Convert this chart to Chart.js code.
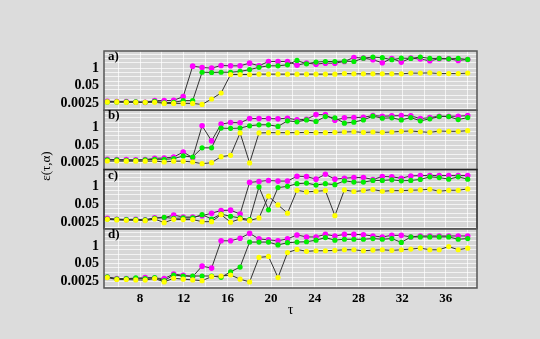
<!DOCTYPE html>
<html>
<head>
<meta charset="utf-8">
<script src="https://cdn.jsdelivr.net/npm/chart.js@4.4.0/dist/chart.umd.min.js"></script>
<style>
  html, body { margin: 0; padding: 0; background: #dcdcdc; }
  #wrap { width: 540px; height: 339px; position: relative; }
</style>
</head>
<body>
<div id="wrap"><canvas id="chart" width="540" height="339"></canvas></div>
<script>
// τ positions of the points (39 per curve)
const tau = [5.00, 5.87, 6.74, 7.61, 8.47, 9.34, 10.21, 11.08, 11.95, 12.82, 13.68, 14.55, 15.42,
  16.29, 17.16, 18.03, 18.89, 19.76, 20.63, 21.50, 22.37, 23.24, 24.11, 24.97, 25.84, 26.71,
  27.58, 28.45, 29.32, 30.18, 31.05, 31.92, 32.79, 33.66, 34.53, 35.39, 36.26, 37.13, 38.00];

const panelNames = ['a', 'b', 'c', 'd'];
const xTickLabels = [8, 12, 16, 20, 24, 28, 32, 36];
const yTickLabels = [0.0025, 0.05, 1];
const yGridLines = [0.001, 0.0025, 0.005, 0.01, 0.025, 0.05, 0.1, 0.25, 0.5, 1, 2.5, 5, 10];

// panel a
const magentaA = [0.0036, 0.0034, 0.0034, 0.0032, 0.0030, 0.0040, 0.0040, 0.0042, 0.0079, 1.41,
  1.12, 1.0, 1.58, 1.49, 1.49, 2.35, 1.49, 3.1, 3.1, 3.1, 1.67, 2.35, 1.98, 2.35, 2.35, 3.1,
  6.2, 5.5, 4.2, 2.5, 5.2, 2.8, 5.5, 4.7, 3.5, 4.9, 4.9, 3.7, 4.4];
const greenA = [0.0032, 0.0032, 0.0032, 0.0032, 0.0030, 0.0036, 0.0028, 0.0030, 0.0040, 0.0040,
  0.50, 0.48, 0.50, 0.50, 0.57, 0.78, 1.15, 1.49, 1.49, 1.77, 3.7, 2.1, 2.8, 3.1, 3.1, 3.3,
  3.1, 5.5, 6.6, 5.9, 4.2, 5.5, 5.2, 6.6, 5.2, 5.2, 4.9, 5.2, 4.4];
const yellowA = [0.0032, 0.0032, 0.0030, 0.0030, 0.0030, 0.0030, 0.0025, 0.0025, 0.0025, 0.0025,
  0.0021, 0.0053, 0.0147, 0.34, 0.34, 0.34, 0.36, 0.36, 0.36, 0.36, 0.36, 0.36, 0.36, 0.36,
  0.36, 0.40, 0.38, 0.38, 0.38, 0.38, 0.38, 0.38, 0.43, 0.43, 0.45, 0.40, 0.40, 0.40, 0.43];

// panel b
const magentaB = [0.0044, 0.0042, 0.0042, 0.0040, 0.0042, 0.0052, 0.0055, 0.0065, 0.0151, 0.0059,
  1.32, 0.101, 1.75, 2.3, 2.2, 4.5, 4.5, 4.5, 4.3, 4.8, 3.6, 4.0, 8.8, 8.8, 3.4, 5.1, 5.3,
  5.6, 7.5, 6.7, 7.1, 7.5, 7.1, 4.5, 5.3, 6.7, 6.7, 6.7, 7.5];
const greenB = [0.0040, 0.0040, 0.0037, 0.0037, 0.0040, 0.0044, 0.0044, 0.0049, 0.0078, 0.0065,
  0.031, 0.031, 0.89, 0.85, 0.89, 1.32, 1.56, 1.56, 1.18, 3.06, 2.6, 3.6, 2.75, 6.3, 5.1,
  2.07, 2.45, 3.6, 6.7, 4.8, 5.1, 3.6, 5.3, 3.06, 4.3, 6.3, 6.3, 3.8, 5.3];
const yellowB = [0.0033, 0.0033, 0.0032, 0.0032, 0.0032, 0.0033, 0.0028, 0.0032, 0.0032, 0.0028,
  0.0021, 0.0025, 0.0069, 0.0087, 0.39, 0.0024, 0.39, 0.41, 0.41, 0.41, 0.41, 0.43, 0.41,
  0.41, 0.43, 0.46, 0.48, 0.43, 0.46, 0.43, 0.46, 0.51, 0.54, 0.48, 0.43, 0.54, 0.51, 0.51, 0.57];

// panel c
const magentaC = [0.0046, 0.0039, 0.0037, 0.0039, 0.0035, 0.0051, 0.0051, 0.0080, 0.0057, 0.0057,
  0.0072, 0.011, 0.0174, 0.0184, 0.0095, 2.06, 2.43, 2.87, 2.57, 2.57, 5.9, 5.6, 3.6, 8.2,
  3.6, 4.2, 4.7, 4.7, 3.4, 5.6, 5.3, 4.2, 6.2, 6.6, 6.6, 6.6, 6.6, 6.6, 6.6];
const greenC = [0.0041, 0.0039, 0.0037, 0.0037, 0.0035, 0.0046, 0.0054, 0.0046, 0.0049, 0.0049,
  0.0085, 0.0041, 0.0095, 0.0064, 0.0049, 0.0037, 0.95, 0.0195, 0.85, 1.06, 1.65, 1.84, 1.32,
  1.65, 1.4, 2.7, 2.17, 2.17, 2.87, 2.87, 3.2, 2.7, 2.87, 3.4, 5.3, 4.7, 3.6, 5.3, 3.6];
const yellowC = [0.0039, 0.0035, 0.0033, 0.0033, 0.0031, 0.0041, 0.0022, 0.0039, 0.0037, 0.0037,
  0.0026, 0.0026, 0.0085, 0.0024, 0.0041, 0.0031, 0.0049, 0.2, 0.045, 0.011, 0.54, 0.41, 0.46,
  0.51, 0.0072, 0.57, 0.44, 0.51, 0.61, 0.46, 0.51, 0.51, 0.54, 0.57, 0.64, 0.46, 0.54, 0.54, 0.68];

// panel d
const magentaD = [0.0051, 0.0039, 0.0039, 0.0039, 0.0046, 0.0043, 0.0039, 0.0083, 0.0067, 0.0054,
  0.032, 0.023, 2.39, 2.39, 3.7, 8.4, 3.3, 2.8, 2.39, 3.3, 6.4, 4.6, 4.6, 7.1, 5.4, 7.1, 7.1,
  6.7, 5.4, 4.6, 6.0, 6.0, 4.6, 5.4, 5.4, 5.4, 5.4, 5.4, 5.4];
const greenD = [0.0051, 0.0037, 0.0039, 0.0043, 0.0039, 0.0046, 0.0027, 0.0071, 0.0060, 0.0060,
  0.0060, 0.0060, 0.0048, 0.0122, 0.0275, 1.92, 1.92, 1.92, 1.18, 1.72, 1.92, 2.03, 2.67, 4.1,
  2.67, 3.1, 3.1, 3.1, 3.5, 3.1, 3.5, 1.82, 4.6, 4.6, 4.6, 4.6, 4.6, 3.1, 3.5];
const yellowD = [0.0046, 0.0033, 0.0033, 0.0031, 0.0030, 0.0039, 0.0022, 0.0041, 0.0035, 0.0031,
  0.0027, 0.0054, 0.0060, 0.0071, 0.0035, 0.0022, 0.141, 0.166, 0.0046, 0.32, 0.55, 0.40, 0.44,
  0.44, 0.47, 0.52, 0.52, 0.44, 0.49, 0.52, 0.47, 0.52, 0.58, 0.68, 0.52, 0.52, 0.90, 0.52, 0.68];

const panelSeries = {
  a: [yellowA, greenA, magentaA],
  b: [yellowB, greenB, magentaB],
  c: [yellowC, greenC, magentaC],
  d: [yellowD, greenD, magentaD]
};
const pointColors = ['#ffff00', '#00ee00', '#ff00ff'];

const serif = '"Liberation Serif", "DejaVu Serif", serif';
const gridColor = 'rgba(255,255,255,0.7)';

// datasets: yellow, then green, then magenta on top
const datasets = [];
panelNames.forEach(p => {
  panelSeries[p].forEach((vals, s) => {
    datasets.push({
      data: tau.map((t, i) => ({ x: t, y: vals[i] })),
      yAxisID: 'y' + p,
      borderColor: '#333333',
      borderWidth: 1,
      backgroundColor: pointColors[s],
      pointBackgroundColor: pointColors[s],
      pointBorderWidth: 0,
      pointRadius: s === 2 ? 2.8 : 2.6,
      pointHoverRadius: 2.6,
      tension: 0
    });
  });
});

const scales = {
  x: {
    type: 'linear',
    min: 4.7,
    max: 38.85,
    afterFit: s => { s.height = 51; },
    ticks: {
      stepSize: 2,
      includeBounds: false,
      autoSkip: false,
      maxRotation: 0,
      padding: 3,
      color: '#000',
      font: { family: serif, size: 13, weight: 'bold' },
      callback: v => xTickLabels.includes(v) ? String(v) : ''
    },
    grid: { color: gridColor, drawTicks: false },
    border: { display: false }
  }
};
// stacked left axes are laid out last-defined on top, so add d first
panelNames.slice().reverse().forEach(p => {
  scales['y' + p] = {
    type: 'logarithmic',
    position: 'left',
    stack: 'panels',
    stackWeight: 1,
    min: 0.00078,
    max: 18.5,
    afterFit: s => { s.width = 104; },
    afterBuildTicks: s => { s.ticks = yGridLines.map(v => ({ value: v })); },
    ticks: {
      autoSkip: false,
      padding: 5,
      color: '#000',
      font: { family: serif, size: 14, weight: 'bold' },
      callback: v => yTickLabels.includes(v) ? String(v) : ''
    },
    grid: { color: gridColor, drawTicks: false },
    border: { display: false }
  };
});

// grey plot background, panel frames, panel letters and axis titles
const panelDeco = {
  id: 'panelDeco',
  beforeDraw(chart) {
    const { ctx, chartArea: ca } = chart;
    ctx.save();
    ctx.fillStyle = '#d7d7d7';
    ctx.fillRect(ca.left, ca.top, ca.right - ca.left, ca.bottom - ca.top);
    ctx.restore();
  },
  afterDraw(chart) {
    const { ctx, chartArea: ca } = chart;
    ctx.save();
    panelNames.forEach(p => {
      const sc = chart.scales['y' + p];
      ctx.strokeStyle = p === 'c' ? '#222' : '#555';
      ctx.lineWidth = 1.5;
      ctx.strokeRect(ca.left, sc.top, ca.right - ca.left, sc.bottom - sc.top);
      ctx.fillStyle = '#000';
      ctx.font = 'bold 13px ' + serif;
      ctx.textAlign = 'left';
      ctx.textBaseline = 'alphabetic';
      ctx.fillText(p + ')', ca.left + 4, sc.top + 9);
    });
    ctx.fillStyle = '#000';
    ctx.font = '14px ' + serif;
    ctx.textAlign = 'center';
    ctx.textBaseline = 'middle';
    ctx.fillText('τ', (ca.left + ca.right) / 2, 310);
    ctx.translate(47, 166);
    ctx.rotate(-Math.PI / 2);
    ctx.font = '13px ' + serif;
    ctx.fillText('ε(τ,α)', 0, 0);
    ctx.restore();
  }
};

new Chart(document.getElementById('chart'), {
  type: 'line',
  data: { datasets: datasets },
  options: {
    responsive: false,
    animation: false,
    layout: { padding: { left: 0, top: 51, right: 63, bottom: 0 } },
    plugins: { legend: { display: false }, tooltip: { enabled: false } },
    scales: scales
  },
  plugins: [panelDeco]
});
</script>
</body>
</html>
